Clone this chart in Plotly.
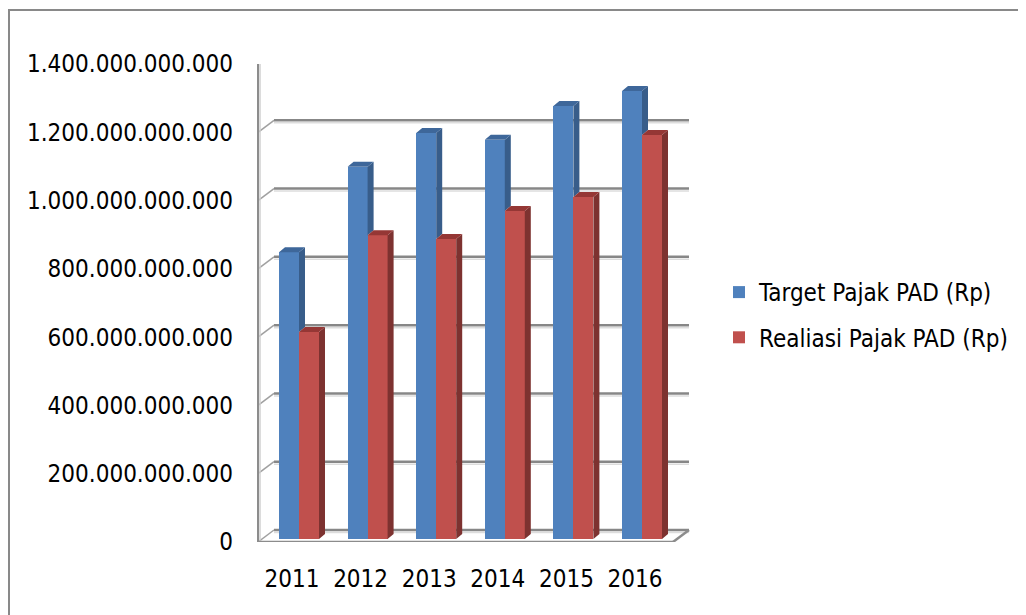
import plotly.graph_objects as go

# ---- data ----
years = ["2011", "2012", "2013", "2014", "2015", "2016"]
target = [840e9, 1090e9, 1189e9, 1169e9, 1268e9, 1312e9]
realisasi = [606e9, 890e9, 879e9, 961e9, 1002e9, 1183e9]
y_ticks = [0, 200e9, 400e9, 600e9, 800e9, 1000e9, 1200e9, 1400e9]
series_names = ["Target Pajak PAD (Rp)", "Realiasi Pajak PAD (Rp)"]

# ---- layout geometry ----
SHIFT = 8  # page body margin in the browser
W_PX, H_PX = 1026 - SHIFT, 615 - SHIFT
PX_L, PX_R, PY_T, PY_B = 258 - SHIFT, 673 - SHIFT, 64 - SHIFT, 542 - SHIFT
X0, X1 = -0.4956, 5.554
Y0, Y1 = 0, 1.4e12
XU = (PX_R - PX_L) / (X1 - X0)          # px per x unit
YU = (PY_B - PY_T) / (Y1 - Y0)          # px per y unit
PW, PH = PX_R - PX_L, PY_B - PY_T

def dxu(p):
    return p / XU

def dyu(p):
    return p / YU

def paper_x(screen_px):
    return (screen_px - SHIFT - PX_L) / PW

def paper_y(screen_py):
    return (PY_B - (screen_py - SHIFT)) / PH

FONT = "DejaVu Sans Condensed, Liberation Sans Narrow, sans-serif"

BAR_W = dxu(20)
OFF_B = dxu(-13)
BASE = dyu(3)
DX, DY = dxu(6), dyu(5)
BACK_DX, BACK_DY = 16, 12

blue, blue_side, blue_top = "#4F81BD", "#385D8A", "#3E679A"
red, red_side, red_top = "#C0504D", "#7D3230", "#953735"

xpos = list(range(len(years)))

fig = go.Figure()
fig.add_trace(go.Bar(x=xpos, y=target, base=BASE, width=BAR_W, offset=OFF_B,
                     marker=dict(color=blue, line=dict(width=0)), name=series_names[0],
                     legendgroup="a"))
fig.add_trace(go.Bar(x=xpos, y=realisasi, base=BASE, width=BAR_W, offset=OFF_B + BAR_W,
                     marker=dict(color=red, line=dict(width=0)), name=series_names[1],
                     legendgroup="b"))

def faces(values, left_off, lower_vals=None):
    sx, sy, tx, ty = [], [], [], []
    for i, v in enumerate(values):
        xl = xpos[i] + left_off
        xr = xl + BAR_W
        top = BASE + v
        low = BASE + (min(lower_vals[i], v) if lower_vals is not None else 0)
        sx += [xr, xr, xr + DX, xr + DX, xr, None]
        sy += [low, top, top + DY, low + DY, low, None]
        tx += [xl, xr, xr + DX, xl + DX, xl, None]
        ty += [top, top, top + DY, top + DY, top, None]
    return sx, sy, tx, ty

bsx, bsy, btx, bty = faces(target, OFF_B, realisasi)
rsx, rsy, rtx, rty = faces(realisasi, OFF_B + BAR_W)
for fx, fy, col in [(bsx, bsy, blue_side), (btx, bty, blue_top),
                    (rsx, rsy, red_side), (rtx, rty, red_top)]:
    fig.add_trace(go.Scatter(x=fx, y=fy, mode="lines", fill="toself", fillcolor=col,
                             line=dict(width=0, color=col), hoverinfo="skip",
                             showlegend=False))

shapes = []
grid_col = "#878787"
bx0, bx1 = BACK_DX / PW, 1 + BACK_DX / PW
for v in y_ticks:
    shapes.append(dict(type="line", xref="paper", yref="y", x0=bx0, x1=bx1,
                       y0=v + dyu(BACK_DY) - dyu(2.5), y1=v + dyu(BACK_DY) - dyu(2.5),
                       line=dict(color="#DDDDDD", width=1.5), layer="below"))
    shapes.append(dict(type="line", xref="paper", yref="y", x0=bx0, x1=bx1,
                       y0=v + dyu(BACK_DY), y1=v + dyu(BACK_DY),
                       line=dict(color=grid_col, width=2.5), layer="below"))
    shapes.append(dict(type="line", xref="paper", yref="y", x0=0, x1=bx0,
                       y0=v, y1=v + dyu(BACK_DY),
                       line=dict(color="#A0A0A0", width=1.5), layer="below"))
shapes.append(dict(type="line", xref="paper", yref="y", x0=2 / PW, x1=2 / PW,
                   y0=0, y1=Y1, line=dict(color="#D0D0D0", width=1.5), layer="below"))
shapes.append(dict(type="line", xref="paper", yref="y", x0=0, x1=0,
                   y0=0, y1=Y1, line=dict(color="#8C8C8C", width=2), layer="below"))
shapes.append(dict(type="line", xref="paper", yref="y", x0=0, x1=1, y0=0, y1=0,
                   line=dict(color="#8C8C8C", width=2.5), layer="below"))
shapes.append(dict(type="line", xref="paper", yref="y", x0=1, x1=bx1, y0=0, y1=dyu(BACK_DY),
                   line=dict(color="#8C8C8C", width=2.5), layer="below"))
# outer chart frame (extends past the right and bottom edges)
shapes.append(dict(type="rect", xref="paper", yref="paper",
                   x0=paper_x(9), x1=paper_x(1045), y0=paper_y(640), y1=paper_y(10),
                   line=dict(color="#898989", width=2), fillcolor="rgba(0,0,0,0)",
                   layer="below"))

fig.update_layout(
    width=W_PX, height=H_PX,
    margin=dict(l=PX_L, r=W_PX - PX_R, t=PY_T, b=H_PX - PY_B, autoexpand=False),
    paper_bgcolor="white", plot_bgcolor="rgba(0,0,0,0)",
    separators=",.",
    font=dict(family=FONT, size=24, color="#000000"),
    showlegend=True,
    legend=dict(x=paper_x(719), y=paper_y(315), xanchor="left", yanchor="middle",
                font=dict(family=FONT, size=24, color="#000000"),
                tracegroupgap=11, traceorder="grouped", bgcolor="rgba(0,0,0,0)"),
    xaxis=dict(range=[X0, X1], tickmode="array", tickvals=xpos, ticktext=years,
               showgrid=False, zeroline=False, showline=False, ticks="",
               ticklabelstandoff=20, automargin=False, fixedrange=True),
    yaxis=dict(range=[Y0, Y1], tickmode="array", tickvals=y_ticks, tickformat=",d",
               showgrid=False, zeroline=False, showline=False, ticks="",
               ticklabelstandoff=24, automargin=False, fixedrange=True),
    shapes=shapes,
    bargap=0,
)

fig.write_html("out.html")
